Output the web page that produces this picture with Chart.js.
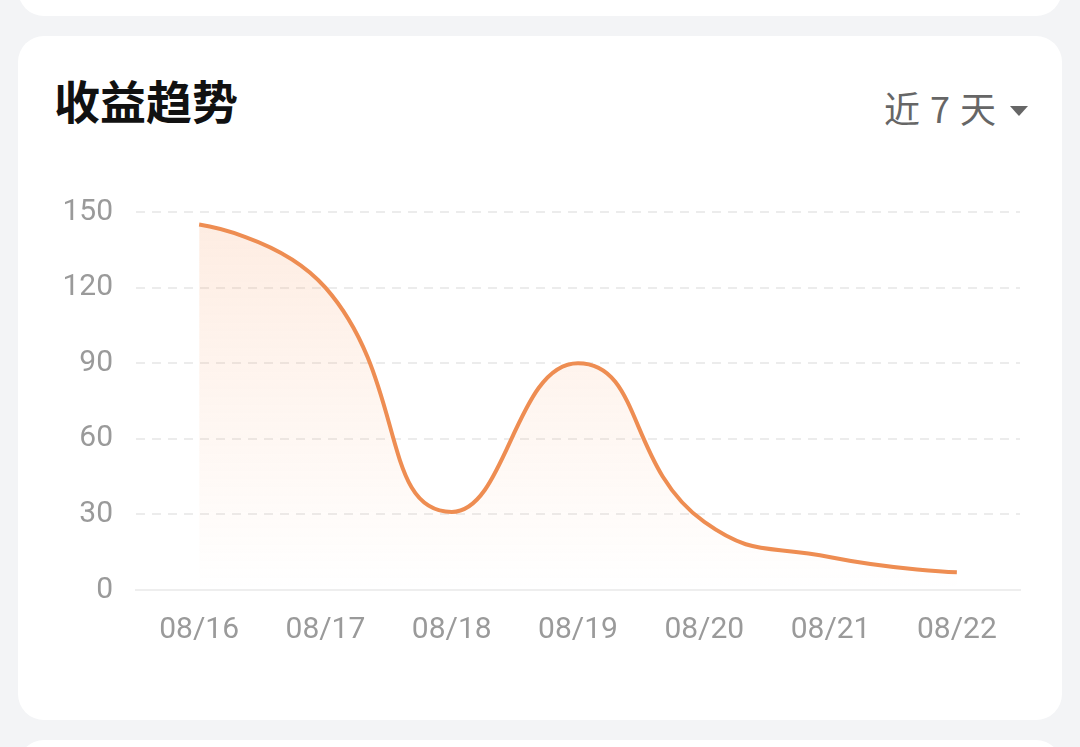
<!DOCTYPE html>
<html>
<head>
<meta charset="utf-8">
<script src="https://cdn.jsdelivr.net/npm/chart.js@4.4.1/dist/chart.umd.min.js"></script>
<style>
  html, body { margin: 0; padding: 0; }
  body {
    width: 1080px; height: 747px; background: #f3f4f6; position: relative; overflow: hidden;
    font-family: "Noto Sans CJK SC", "Noto Sans", sans-serif;
  }
  .card { position: absolute; background: #fff; border-radius: 26px; }
  .title { position: absolute; left: 54px; top: 76px; font-size: 46px; font-weight: 700; color: #111; line-height: 1; }
  .range { position: absolute; left: 884px; top: 89px; font-size: 36px; color: #666; line-height: 1; letter-spacing: 1px; }
  .caret { position: absolute; left: 1010px; top: 106px; width: 0; height: 0;
    border-left: 9px solid transparent; border-right: 9px solid transparent; border-top: 10px solid #666; }
  #wrap { position: absolute; left: 40px; top: 171px; width: 1000px; height: 510px; }
</style>
</head>
<body>
<div class="card" style="left:18px; top:-40px; width:1044px; height:56px;"></div>
<div class="card" style="left:18px; top:36px; width:1044px; height:684px;"></div>
<div class="card" style="left:18px; top:740px; width:1044px; height:60px;"></div>

<div class="title">收益趋势</div>
<div class="range">近 7 天</div>
<div class="caret"></div>

<div id="wrap"><canvas id="chart"></canvas></div>

<script>
// 日期 / 收益
const labels = ['08/16', '08/17', '08/18', '08/19', '08/20', '08/21', '08/22'];
const income = [145, 120, 31, 90, 27, 13, 7];
const yTicks = [0, 30, 60, 90, 120, 150];

const LINE = '#ee8d52';
const SMOOTH = 0.5;

// Courbe lissée façon "smooth" : points de contrôle bornés entre voisins,
// donc tangente horizontale aux extrema, et extrémités sans poignée.
const smoothPlugin = {
  id: 'smoothClamp',
  afterDatasetsUpdate(chart) {
    chart.data.datasets.forEach((ds, i) => {
      const meta = chart.getDatasetMeta(i);
      meta.dataset.updateControlPoints(chart.chartArea, meta.iScale.axis);
      const pts = meta.data;
      const n = pts.length;
      const clamp = (v, a, b) => Math.max(Math.min(v, Math.max(a, b)), Math.min(a, b));

      pts[0].cp2x = pts[0].x; pts[0].cp2y = pts[0].y;
      pts[n - 1].cp1x = pts[n - 1].x; pts[n - 1].cp1y = pts[n - 1].y;

      for (let k = 1; k < n - 1; k++) {
        const p = pts[k - 1], c = pts[k], q = pts[k + 1];
        let vx = q.x - p.x, vy = q.y - p.y;
        const lenPrev = Math.hypot(c.x - p.x, c.y - p.y);
        const lenNext = Math.hypot(q.x - c.x, q.y - c.y);
        const r = lenNext / (lenNext + lenPrev);

        let nx = clamp(c.x + vx * SMOOTH * r, q.x, c.x);
        let ny = clamp(c.y + vy * SMOOTH * r, q.y, c.y);
        vx = nx - c.x; vy = ny - c.y;
        let px = clamp(c.x - vx * lenPrev / lenNext, p.x, c.x);
        let py = clamp(c.y - vy * lenPrev / lenNext, p.y, c.y);
        vx = c.x - px; vy = c.y - py;
        nx = c.x + vx * lenNext / lenPrev;
        ny = c.y + vy * lenNext / lenPrev;

        c.cp1x = px; c.cp1y = py;
        c.cp2x = nx; c.cp2y = ny;
      }
    });
  },
};

new Chart(document.getElementById('chart'), {
  type: 'line',
  plugins: [smoothPlugin],
  data: {
    labels,
    datasets: [{
      data: income,
      borderColor: LINE,
      borderWidth: 4,
      pointRadius: 0,
      tension: SMOOTH,
      fill: 'origin',
      backgroundColor(ctx) {
        const { chart } = ctx;
        const area = chart.chartArea;
        if (!area) return 'rgba(248,150,90,0.15)';
        const g = chart.ctx.createLinearGradient(0, area.top, 0, area.bottom);
        g.addColorStop(0, 'rgba(248,150,90,0.18)');
        g.addColorStop(1, 'rgba(248,150,90,0)');
        return g;
      },
    }],
  },
  options: {
    animation: false,
    responsive: true,
    maintainAspectRatio: false,
    layout: { padding: { top: 15, right: 20, left: 0, bottom: 0 } },
    plugins: { legend: { display: false }, tooltip: { enabled: false } },
    scales: {
      x: {
        offset: true,
        grid: { display: false, drawTicks: false },
        border: { display: true, color: '#eeeeee', width: 2 },
        ticks: { color: '#9a9a9a', padding: 22, font: { size: 30, family: 'Roboto' }, maxRotation: 0 },
        afterFit(scale) { scale.height = 91; },
      },
      y: {
        min: 0,
        max: 150,
        afterBuildTicks(scale) { scale.ticks = yTicks.map(v => ({ value: v })); },
        grid: {
          color: ctx => ctx.tick.value === 0 ? 'rgba(0,0,0,0)' : '#ececec',
          lineWidth: 2,
          drawTicks: false,
        },
        border: { display: false, dash: [9, 7] },
        ticks: { color: '#9a9a9a', padding: 23, font: { size: 30, family: 'Roboto' } },
        afterFit(scale) { scale.width = 96; },
      },
    },
  },
});
</script>
</body>
</html>
